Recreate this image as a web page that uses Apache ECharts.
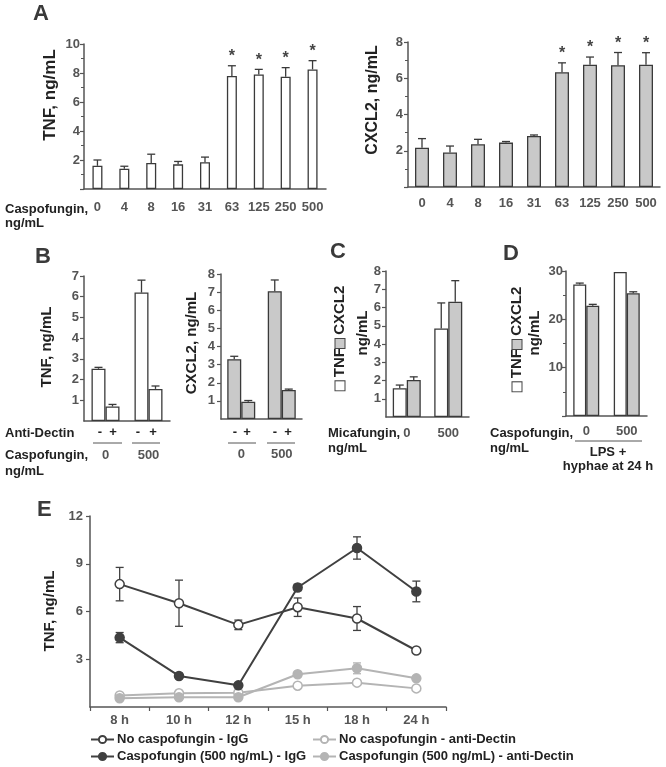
<!DOCTYPE html>
<html><head><meta charset="utf-8">
<script src="https://cdn.jsdelivr.net/npm/echarts@6/dist/echarts.min.js"></script>
<style>html,body{margin:0;padding:0;background:#fff}#c{width:666px;height:767px}</style>
</head><body><div id="c"></div>
<script>
// ---------- DATA ----------
const aCats = ['0','4','8','16','31','63','125','250','500'];
const aTnf = [1.6, 1.4, 1.8, 1.7, 1.85, 7.8, 7.9, 7.75, 8.25];
const aTnfErr = [0.4, 0.17, 0.6, 0.2, 0.35, 0.7, 0.35, 0.62, 0.6];
const aCxcl2 = [2.17, 1.9, 2.36, 2.45, 2.82, 6.33, 6.75, 6.72, 6.75];
const aCxcl2Err = [0.5, 0.36, 0.27, 0.06, 0.05, 0.52, 0.42, 0.7, 0.66];
const aSig = [0, 0, 0, 0, 0, 1, 1, 1, 1];

const bCats = ['0', '500'];
const bTnfMinus = [2.52, 6.2];
const bTnfMinusErr = [0.07, 0.6];
const bTnfPlus = [0.7, 1.55];
const bTnfPlusErr = [0.1, 0.14];
const bCxMinus = [3.3, 7.05];
const bCxMinusErr = [0.16, 0.62];
const bCxPlus = [0.95, 1.6];
const bCxPlusErr = [0.07, 0.05];

const cCats = ['0', '500'];
const cTnf = [1.58, 4.85];
const cTnfErr = [0.17, 1.4];
const cCx = [2.03, 6.32];
const cCxErr = [0.17, 1.15];

const dCats = ['0', '500'];
const dTnf = [27.2, 29.8];
const dTnfErr = [0.3, 0];
const dCx = [22.8, 25.4];
const dCxErr = [0.3, 0.3];

const eCats = ['8 h', '10 h', '12 h', '15 h', '18 h', '24 h'];
const eNoCaspIgG = [7.72, 6.52, 5.16, 6.27, 5.56, 3.55];
const eNoCaspIgGErr = [1.05, 1.45, 0.3, 0.58, 0.75, 0.1];
const eCaspIgG = [4.36, 1.95, 1.36, 7.51, 9.99, 7.26];
const eCaspIgGErr = [0.32, 0.15, 0.12, 0.2, 0.7, 0.65];
const eNoCaspAnti = [0.73, 0.86, 0.9, 1.34, 1.53, 1.17];
const eNoCaspAntiErr = [0.06, 0.05, 0.05, 0.1, 0.1, 0.1];
const eCaspAnti = [0.55, 0.61, 0.61, 2.06, 2.43, 1.8];
const eCaspAntiErr = [0.06, 0.05, 0.05, 0.15, 0.34, 0.12];

// ---------- STYLE ----------
const FONT = '"Liberation Sans", Arial, sans-serif';
const AX = '#555';
const GRAY = '#c9c9c9';
const EDGE = '#3a3a3a';
const DARK = '#404040';
const LIGHT = '#b4b4b4';
const TXT = '#222';

function yAx(grid, max, interval, margin, minor) {
  return {
    gridIndex: grid, type: 'value', min: 0, max: max, interval: interval,
    axisLine: { show: true, lineStyle: { color: AX, width: 1.5 } },
    axisTick: { show: true, length: 4, lineStyle: { color: AX, width: 1.2 } },
    minorTick: { show: !!minor, splitNumber: 2, length: 3, lineStyle: { color: AX, width: 1 } },
    splitLine: { show: false },
    axisLabel: { showMinLabel: false, margin: margin, color: '#555', fontWeight: 'bold', fontSize: 13, fontFamily: FONT }
  };
}
function xAx(grid, data, margin, ticks) {
  return {
    gridIndex: grid, type: 'category', data: data,
    axisLine: { show: true, lineStyle: { color: AX, width: 1.5 } },
    axisTick: { show: !!ticks, length: 4, lineStyle: { color: AX, width: 1.2 } },
    axisLabel: { margin: margin, color: '#555', fontWeight: 'bold', fontSize: 13, fontFamily: FONT, interval: 0 }
  };
}
function bar(grid, data, color, width) {
  return {
    type: 'bar', xAxisIndex: grid, yAxisIndex: grid, data: data, barWidth: width, barGap: '0%',
    itemStyle: { color: color, borderColor: EDGE, borderWidth: 1.3 }, z: 2
  };
}
function errSeries(grid, means, errs, sig, offset, color, both, capHalf) {
  return {
    type: 'custom', xAxisIndex: grid, yAxisIndex: grid, clip: false, z: both ? 1 : 5,
    data: means.map((m, i) => [i, m, errs[i], sig ? sig[i] : 0]),
    renderItem: function (params, api) {
      const i = api.value(0), m = api.value(1), e = api.value(2), s = api.value(3);
      const base = api.coord([i, m]);
      const hi = api.coord([i, m + e]);
      const lo = both ? api.coord([i, m - e]) : base;
      const x = base[0] + offset;
      const ch = [];
      const st = { stroke: color, lineWidth: 1.3 };
      if (e > 0) {
        ch.push({ type: 'line', shape: { x1: x, y1: lo[1], x2: x, y2: hi[1] }, style: st });
        ch.push({ type: 'line', shape: { x1: x - capHalf, y1: hi[1], x2: x + capHalf, y2: hi[1] }, style: st });
        if (both) ch.push({ type: 'line', shape: { x1: x - capHalf, y1: lo[1], x2: x + capHalf, y2: lo[1] }, style: st });
      }
      if (s) ch.push({ type: 'text', style: { text: '*', x: x, y: hi[1] - 1, align: 'center', verticalAlign: 'bottom',
        fontSize: 16, fontWeight: 'bold', fontFamily: FONT, fill: '#444' } });
      return { type: 'group', children: ch };
    }
  };
}
function line(name, data, color, open) {
  return {
    type: 'line', name: name, xAxisIndex: 6, yAxisIndex: 6, data: data, z: 3,
    symbol: 'circle', symbolSize: 9,
    lineStyle: { color: color, width: 2 },
    itemStyle: { color: open ? '#fff' : color, borderColor: color, borderWidth: 1.5 }
  };
}
function txt(t, x, y, opt) {
  opt = opt || {};
  return { type: 'text', x: x, y: y, rotation: opt.rot || 0, z: 10,
    style: { text: t, align: opt.align || 'left', verticalAlign: opt.va || 'middle',
      font: (opt.font || 'bold 13px') + ' ' + FONT, fill: opt.fill || TXT } };
}
function ln(x1, y1, x2, y2) {
  return { type: 'line', z: 10, shape: { x1: x1, y1: y1, x2: x2, y2: y2 }, style: { stroke: '#555', lineWidth: 1 } };
}
const R = Math.PI / 2;
function legendRot(x, y) {
  return { type: 'text', x: x, y: y, rotation: R, z: 10,
    style: { text: '{w|}{t| TNF}{g|}{t| CXCL2}', align: 'center', verticalAlign: 'middle',
      rich: {
        w: { width: 9, height: 9, backgroundColor: '#fff', borderColor: '#444', borderWidth: 1 },
        g: { width: 9, height: 9, backgroundColor: GRAY, borderColor: '#444', borderWidth: 1 },
        t: { fontSize: 15, fontWeight: 'bold', fontFamily: FONT, fill: TXT }
      } } };
}
const legendText = { fontSize: 13, fontWeight: 'bold', fontFamily: FONT, color: TXT, lineHeight: 13, padding: [0, 0, 0, -2] };

const chart = echarts.init(document.getElementById('c'), null, { renderer: 'canvas' });
chart.setOption({
  animation: false,
  backgroundColor: '#fff',
  grid: [
    { left: 84, top: 44, width: 242, height: 145 },
    { left: 408, top: 42, width: 252, height: 145 },
    { left: 84, top: 276, width: 86, height: 145 },
    { left: 221, top: 274, width: 81, height: 145 },
    { left: 386, top: 271, width: 83, height: 146 },
    { left: 566, top: 271, width: 81, height: 145 },
    { left: 90, top: 516, width: 356, height: 191 }
  ],
  xAxis: [
    xAx(0, aCats, 12), xAx(1, aCats, 10), xAx(2, bCats, 28), xAx(3, bCats, 29),
    xAx(4, cCats, 10), xAx(5, dCats, 9), xAx(6, eCats, 7, true)
  ],
  yAxis: [
    yAx(0, 10, 2, 4, true), yAx(1, 8, 2, 5, true), yAx(2, 7, 1, 5), yAx(3, 8, 1, 6),
    yAx(4, 8, 1, 5), yAx(5, 30, 10, 3, true), yAx(6, 12, 3, 7)
  ],
  legend: [
    { data: ['No caspofungin - IgG', 'Caspofungin (500 ng/mL) - IgG'], orient: 'vertical', left: 90, top: 733,
      itemWidth: 23, itemHeight: 9, itemGap: 4, selectedMode: false, padding: 0, textStyle: legendText },
    { data: ['No caspofungin - anti-Dectin', 'Caspofungin (500 ng/mL) - anti-Dectin'], orient: 'vertical', left: 312, top: 733,
      itemWidth: 23, itemHeight: 9, itemGap: 4, selectedMode: false, padding: 0, textStyle: legendText }
  ],
  series: [
    bar(0, aTnf, '#fff', 10), errSeries(0, aTnf, aTnfErr, aSig, 0, EDGE, false, 4),
    bar(1, aCxcl2, GRAY, 14), errSeries(1, aCxcl2, aCxcl2Err, aSig, 0, EDGE, false, 4),
    bar(2, bTnfMinus, '#fff', 14), bar(2, bTnfPlus, '#fff', 14),
    errSeries(2, bTnfMinus, bTnfMinusErr, null, -7, EDGE, false, 4),
    errSeries(2, bTnfPlus, bTnfPlusErr, null, 7, EDGE, false, 4),
    bar(3, bCxMinus, GRAY, 14), bar(3, bCxPlus, GRAY, 14),
    errSeries(3, bCxMinus, bCxMinusErr, null, -7, EDGE, false, 4),
    errSeries(3, bCxPlus, bCxPlusErr, null, 7, EDGE, false, 4),
    bar(4, cTnf, '#fff', 14), bar(4, cCx, GRAY, 14),
    errSeries(4, cTnf, cTnfErr, null, -7, EDGE, false, 4),
    errSeries(4, cCx, cCxErr, null, 7, EDGE, false, 4),
    bar(5, dTnf, '#fff', 13), bar(5, dCx, GRAY, 13),
    errSeries(5, dTnf, dTnfErr, null, -6.5, EDGE, false, 4),
    errSeries(5, dCx, dCxErr, null, 6.5, EDGE, false, 4),
    errSeries(6, eNoCaspAnti, eNoCaspAntiErr, null, 0, LIGHT, true, 4),
    errSeries(6, eCaspAnti, eCaspAntiErr, null, 0, LIGHT, true, 4),
    errSeries(6, eNoCaspIgG, eNoCaspIgGErr, null, 0, DARK, true, 4),
    errSeries(6, eCaspIgG, eCaspIgGErr, null, 0, DARK, true, 4),
    line('No caspofungin - anti-Dectin', eNoCaspAnti, LIGHT, true),
    line('Caspofungin (500 ng/mL) - anti-Dectin', eCaspAnti, LIGHT, false),
    line('No caspofungin - IgG', eNoCaspIgG, DARK, true),
    line('Caspofungin (500 ng/mL) - IgG', eCaspIgG, DARK, false)
  ],
  graphic: { elements: [
    txt('A', 33, 14, { font: 'bold 22px', fill: '#3a3a3a' }),
    txt('TNF, ng/mL', 50, 95, { rot: R, align: 'center', font: 'bold 17px' }),
    txt('CXCL2, ng/mL', 373, 100, { rot: R, align: 'center', font: 'bold 16px' }),
    txt('Caspofungin,', 5, 209), txt('ng/mL', 5, 223),

    txt('B', 35, 257, { font: 'bold 22px', fill: '#3a3a3a' }),
    txt('TNF, ng/mL', 47, 347, { rot: R, align: 'center', font: 'bold 15px' }),
    txt('CXCL2, ng/mL', 192, 343, { rot: R, align: 'center', font: 'bold 15px' }),
    txt('Anti-Dectin', 5, 433),
    txt('-', 100, 432, { align: 'center' }), txt('+', 113, 432, { align: 'center' }),
    txt('-', 138, 432, { align: 'center' }), txt('+', 153, 432, { align: 'center' }),
    txt('-', 235, 432, { align: 'center' }), txt('+', 247, 432, { align: 'center' }),
    txt('-', 275, 432, { align: 'center' }), txt('+', 288, 432, { align: 'center' }),
    ln(93, 443, 122, 443), ln(132, 443, 160, 443), ln(228, 443, 256, 443), ln(267, 443, 295, 443),
    txt('Caspofungin,', 5, 455), txt('ng/mL', 5, 471),

    txt('C', 330, 252, { font: 'bold 22px', fill: '#3a3a3a' }),
    legendRot(340, 338),
    txt('ng/mL', 363, 333, { rot: R, align: 'center', font: 'bold 15px' }),
    txt('Micafungin,', 328, 433), txt('ng/mL', 328, 448),

    txt('D', 503, 254, { font: 'bold 22px', fill: '#3a3a3a' }),
    legendRot(517, 339),
    txt('ng/mL', 535, 333, { rot: R, align: 'center', font: 'bold 15px' }),
    txt('Caspofungin,', 490, 433), txt('ng/mL', 490, 448),
    ln(575, 441, 642, 441),
    txt('LPS +', 608, 452, { align: 'center' }),
    txt('hyphae at 24 h', 608, 466, { align: 'center' }),

    txt('E', 37, 510, { font: 'bold 22px', fill: '#3a3a3a' }),
    txt('TNF, ng/mL', 50, 611, { rot: R, align: 'center', font: 'bold 15px' })
  ] }
});
</script>
</body></html>
